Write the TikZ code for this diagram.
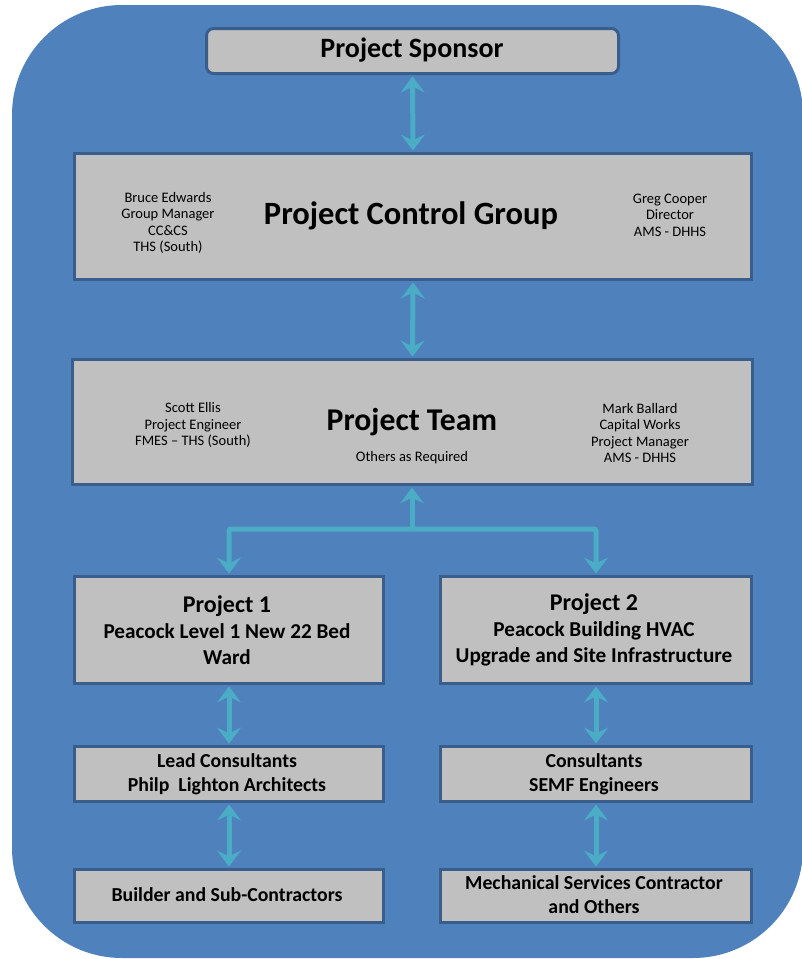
\documentclass[tikz,border=0pt]{standalone}
\usepackage{fontspec}
\setmainfont{Carlito}
\usetikzlibrary{arrows.meta}
\definecolor{bgblue}{HTML}{4F81BD}
\definecolor{boxfill}{HTML}{C0C0C0}
\definecolor{boxline}{HTML}{3A5E8C}
\definecolor{arrc}{HTML}{4BACC6}
\tikzset{
  box/.style={draw=boxline, fill=boxfill, line width=3pt, inner sep=0pt, anchor=north west},
  conn/.style={draw=arrc, line width=5pt},
  tip/.tip={Stealth[length=16pt,width=24pt,inset=6pt]},
  dbl/.style={conn, tip-tip},
  small/.style={align=center, font=\fontsize{14.5}{16.5}\selectfont, inner sep=0pt},
  mid/.style={align=center, font=\bfseries\fontsize{19.8}{24}\selectfont, inner sep=0pt},
}
\begin{document}
\begin{tikzpicture}[x=1pt,y=-1pt]
\useasboundingbox (0,0) rectangle (801,959);
\fill[bgblue, rounded corners=110pt] (12,5) rectangle (803,958);
% boxes
\node[box, rounded corners=7pt, minimum width=412pt, minimum height=45pt] (spon) at (205,27) {};
\node[box, minimum width=677pt, minimum height=126pt] (pcg) at (73,152) {};
\node[box, minimum width=680pt, minimum height=125pt] (team) at (71,358) {};
\node[box, minimum width=309pt, minimum height=107pt] (p1) at (73,575) {};
\node[box, minimum width=311pt, minimum height=107pt] (p2) at (439,575) {};
\node[box, minimum width=309pt, minimum height=55pt] (lead) at (73,745) {};
\node[box, minimum width=311pt, minimum height=55pt] (cons) at (439,745) {};
\node[box, minimum width=309pt, minimum height=53pt] (build) at (73,868) {};
\node[box, minimum width=311pt, minimum height=53pt] (mech) at (439,868) {};
% texts
\node[font=\bfseries\fontsize{28}{30}\selectfont, inner sep=0pt] (sponT) at (412,50) {Project Sponsor};
\node[font=\bfseries\fontsize{32.5}{34}\selectfont, inner sep=0pt] (pcgT) at (411,216) {Project Control Group};
\node[small] (pcgL) at (168,223) {Bruce Edwards\\Group Manager\\CC\&CS\\THS (South)};
\node[small] (pcgR) at (670,215) {Greg Cooper\\Director\\AMS - DHHS};
\node[font=\bfseries\fontsize{31.7}{34}\selectfont, inner sep=0pt] (teamT) at (412,422) {Project Team};
\node[small] (teamO) at (412,458) {Others as Required};
\node[small] (teamL) at (193,425) {Scott Ellis\\Project Engineer\\FMES – THS (South)};
\node[small] (teamR) at (640,433) {Mark Ballard\\Capital Works\\Project Manager\\AMS - DHHS};
\node[align=center, inner sep=0pt, font=\bfseries\fontsize{21.2}{26}\selectfont] (p1T) at (227,630) {{\fontsize{24}{26}\selectfont Project 1}\\Peacock Level 1 New 22 Bed\\Ward};
\node[align=center, inner sep=0pt, font=\bfseries\fontsize{21.2}{26}\selectfont] (p2T) at (594,630) {{\fontsize{24}{26}\selectfont Project 2}\\Peacock Building HVAC\\Upgrade and Site Infrastructure};
\node[mid] (leadT) at (227,774) {Lead Consultants\\Philp\ \ Lighton Architects};
\node[mid] (consT) at (594,774) {Consultants\\SEMF Engineers};
\node[mid] (buildT) at (227,895) {Builder and Sub-Contractors};
\node[mid] (mechT) at (594,895) {Mechanical Services Contractor\\and Others};
% connectors
\coordinate (j) at (412,529);
\draw[dbl] ([yshift=-1.5pt]spon.south) -- ([yshift=1.5pt]pcg.north);
\draw[dbl] ([yshift=-1.5pt]pcg.south) -- ([yshift=1.5pt]team.north);
\draw[conn, -tip] (j) -- ([yshift=-1.5pt]team.south -| j);
\draw[conn, -tip, rounded corners=2pt] (j) -| ([yshift=1.5pt]p1.north);
\draw[conn, -tip, rounded corners=2pt] (j) -| ([yshift=1.5pt]p2.north);
\draw[dbl] ([yshift=-1.5pt]p1.south) -- ([yshift=1.5pt]lead.north);
\draw[dbl] ([yshift=-1.5pt]p2.south) -- ([yshift=1.5pt]cons.north);
\draw[dbl] ([yshift=-1.5pt]lead.south) -- ([yshift=1.5pt]build.north);
\draw[dbl] ([yshift=-1.5pt]cons.south) -- ([yshift=1.5pt]mech.north);
\end{tikzpicture}
\end{document}
